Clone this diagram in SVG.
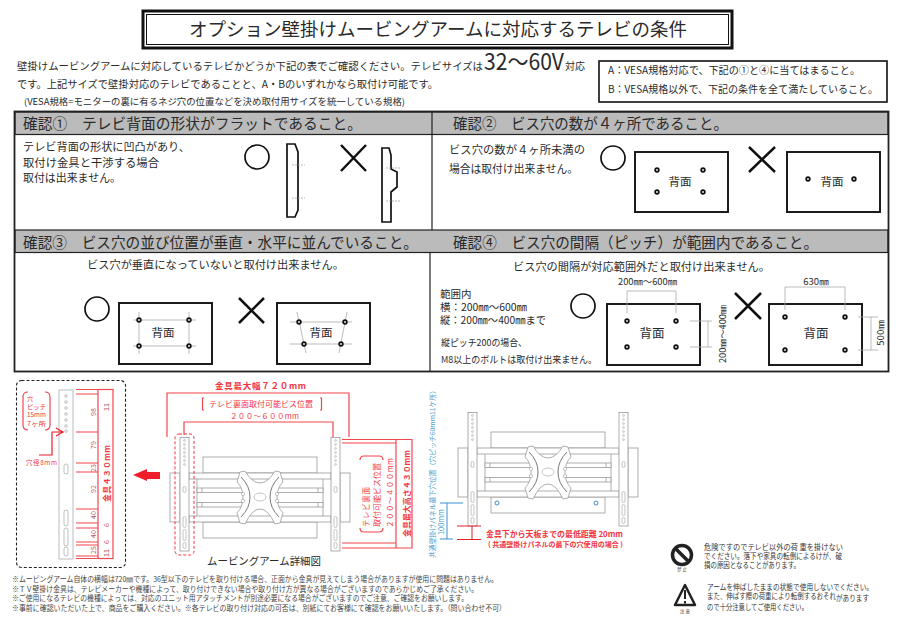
<svg xmlns="http://www.w3.org/2000/svg" width="900" height="623" viewBox="0 0 900 623">
<style>
text{font-family:"Noto Sans CJK JP","Liberation Sans",sans-serif;fill:#2a2a2a}
.b{stroke:#111;fill:#fff;stroke-width:1.900}
.hdr{fill:#bbb;stroke:#222;stroke-width:1.200}
.gl{stroke:#aaa;stroke-width:.8;fill:none}
.hole{fill:#fff;stroke:#111;stroke-width:1.800}
.mark{stroke:#111;stroke-width:1.700;fill:none}
.cross{stroke:#111;stroke-width:2.500;fill:none}
.r{stroke:#f2474f;stroke-width:1.200;fill:none}
.rt{fill:#f2353f;font-weight:700}
.rs{fill:#f2353f}
.m{stroke:#999;stroke-width:.8;fill:#fff}
.m2{stroke:#aaa;stroke-width:.7;fill:#fff}
.bl{stroke:#3f8fd0;stroke-width:1;fill:none}
.bt{fill:#4f9fd0}
.h3{font-size:15.200px}
.h4{font-size:11.200px}
.bm{font-size:11.500px;text-anchor:middle}
.sm{font-size:9.600px}
.fn{font-size:7.500px;fill:#444}
.wn{font-size:7.600px;fill:#333}
.dim{font-size:7px;text-anchor:middle;fill:#b56}
</style>
<defs>
<g id="rail">
<rect class="m" x="0" y="0" width="9" height="113.500"/>
<g class="m2"><circle cx="4.500" cy="3" r=".9"/><circle cx="4.500" cy="7" r=".9"/><circle cx="4.500" cy="11" r=".9"/><circle cx="4.500" cy="15" r=".9"/><circle cx="4.500" cy="19" r=".9"/><circle cx="4.500" cy="23" r=".9"/><circle cx="4.500" cy="27" r=".9"/></g>
<rect class="m2" x="3" y="49" width="3" height="6" rx="1.500"/>
<rect class="m2" x="3" y="79" width="3" height="11" rx="1.500"/>
<rect class="m2" x="3" y="92" width="3" height="11" rx="1.500"/>
<rect class="m2" x="3" y="105" width="3" height="6" rx="1.500"/>
</g>
<g id="arm">
<rect class="m" x="203" y="457" width="114" height="16"/>
<rect class="m" x="203" y="522" width="114" height="16"/>
<rect class="m" x="170" y="473" width="10" height="49"/>
<rect class="m" x="340" y="473" width="10" height="49"/>
<rect class="m" x="189" y="473" width="142" height="6"/>
<rect class="m" x="189" y="516" width="142" height="6"/>
<path class="m" d="M197 479V516M323 479V516"/>
<rect class="m" x="197" y="488" width="126" height="4.500"/>
<rect class="m" x="197" y="502.500" width="126" height="4.500"/>
<path class="m" d="M202 488V492.500M202 502.500V507M318 488V492.500M318 502.500V507"/>
<path class="m" d="M240 472L245 471Q252 483 260 483Q268 483 275 471L280 472L283 482Q277 488 277 497Q277 507 283 513L280 523L275 524Q268 509 260 509Q252 509 245 524L240 523L237 513Q243 507 243 497Q243 488 237 482Z"/>
<path d="M241 477Q250 486 250 497Q250 508 241 517" fill="none" stroke="#777" stroke-width="1"/>
<path d="M279 477Q270 486 270 497Q270 508 279 517" fill="none" stroke="#777" stroke-width="1"/>
<ellipse class="m2" cx="260" cy="497" rx="6" ry="4"/>
<circle class="m2" cx="243" cy="494" r="1.700"/><circle class="m2" cx="243" cy="501" r="1.700"/>
<circle class="m2" cx="277" cy="494" r="1.700"/><circle class="m2" cx="277" cy="501" r="1.700"/>
<use href="#rail" x="180" y="437.500"/>
<use href="#rail" x="331" y="437.500"/>
</g>
</defs>
<rect width="900" height="623" fill="#fff"/>

<g id="title">
<rect x="143" y="11" width="589" height="37" fill="#fff" stroke="#111" stroke-width="3"/>
<rect x="146.500" y="14.500" width="582" height="30" fill="none" stroke="#111" stroke-width="1"/>
<text x="189" y="36" font-size="18.400" textLength="498" lengthAdjust="spacingAndGlyphs">オプション壁掛けムービングアームに対応するテレビの条件</text>
</g>

<g id="intro">
<text x="17" y="70" font-size="10.400" textLength="466" lengthAdjust="spacingAndGlyphs">壁掛けムービングアームに対応しているテレビかどうか下記の表でご確認ください。テレビサイズは</text>
<text x="484" y="69.500" font-size="23" fill="#111" textLength="80" lengthAdjust="spacingAndGlyphs">32〜60V</text>
<text x="565" y="70" font-size="10" textLength="20">対応</text>
<text x="17" y="87.500" font-size="10.400" textLength="421" lengthAdjust="spacingAndGlyphs">です。上記サイズで壁掛対応のテレビであることと、A・Bのいずれかなら取付け可能です。</text>
<text x="24" y="105" font-size="9" textLength="381" lengthAdjust="spacingAndGlyphs">(VESA規格=モニターの裏に有るネジ穴の位置などを決め取付用サイズを統一している規格)</text>
</g>

<g id="conditions">
<rect x="599" y="61" width="288" height="41" fill="#fff" stroke="#111" stroke-width="1.600"/>
<text x="608" y="74" font-size="10.500" textLength="252" lengthAdjust="spacingAndGlyphs">A：VESA規格対応で、下記の①と④に当てはまること。</text>
<text x="608" y="93" font-size="10.500" textLength="270" lengthAdjust="spacingAndGlyphs">B：VESA規格以外で、下記の条件を全て満たしていること。</text>
</g>

<g id="table">
<rect class="hdr" x="15" y="112" width="873" height="22.500"/>
<rect class="hdr" x="15" y="230" width="873" height="22.500"/>
<rect x="14.500" y="111.500" width="874" height="260" fill="none" stroke="#222" stroke-width="1.800"/>
<path d="M432 112V230M430 252V372" stroke="#222" stroke-width="1.200" fill="none"/>
</g>

<g id="check1">
<text class="h3" x="23" y="129" textLength="339" lengthAdjust="spacingAndGlyphs">確認①　テレビ背面の形状がフラットであること。</text>
<text class="h4" x="23" y="151" textLength="167" lengthAdjust="spacingAndGlyphs">テレビ背面の形状に凹凸があり、</text>
<text class="h4" x="23" y="166.500" textLength="136" lengthAdjust="spacingAndGlyphs">取付け金具と干渉する場合</text>
<text class="h4" x="23" y="182" textLength="98" lengthAdjust="spacingAndGlyphs">取付は出来ません。</text>
<circle class="mark" cx="257" cy="157" r="12"/>
<path class="mark" d="M287 144H295L298 152V210L295 217H287Z"/>
<path class="gl" stroke="#888" stroke-dasharray="2 1" d="M292 165H305M292 198H305"/>
<path class="cross" d="M341 145L366 171M366 145L341 171"/>
<path class="mark" d="M382 148H389L391 155V169L397 172V187L391 192V222H382Z"/>
<path class="gl" stroke-dasharray="2 1" d="M386 168H400M386 201H400"/>
</g>

<g id="check2">
<text class="h3" x="453" y="129" textLength="275" lengthAdjust="spacingAndGlyphs">確認②　ビス穴の数が４ヶ所であること。</text>
<text class="h4" x="449" y="154" textLength="136" lengthAdjust="spacingAndGlyphs">ビス穴の数が４ヶ所未満の</text>
<text class="h4" x="449" y="173" textLength="129" lengthAdjust="spacingAndGlyphs">場合は取付け出来ません。</text>
<circle class="mark" cx="613" cy="158" r="12"/>
<rect class="b" x="635" y="152" width="93" height="60"/>
<g class="hole"><circle cx="657" cy="170" r="1.800"/><circle cx="703" cy="170" r="1.800"/><circle cx="657" cy="192" r="1.800"/><circle cx="703" cy="192" r="1.800"/></g>
<text class="bm" x="680" y="186">背面</text>
<path class="cross" d="M749 147L775 172M775 147L749 172"/>
<rect class="b" x="787" y="152" width="93" height="60"/>
<g class="hole"><circle cx="808" cy="179" r="1.800"/><circle cx="854" cy="179" r="1.800"/></g>
<text class="bm" x="832" y="186">背面</text>
</g>

<g id="check3">
<text class="h3" x="23" y="247.500" textLength="395" lengthAdjust="spacingAndGlyphs">確認③　ビス穴の並び位置が垂直・水平に並んでいること。</text>
<text x="87" y="269" font-size="11" textLength="257" lengthAdjust="spacingAndGlyphs">ビス穴が垂直になっていないと取付け出来ません。</text>
<circle class="mark" cx="97" cy="309" r="12"/>
<rect class="b" x="119" y="303" width="93" height="61"/>
<path class="gl" d="M133 320H196M133 346H196M139 312V354M189 312V354"/>
<g class="hole"><circle cx="139" cy="320" r="1.800"/><circle cx="189" cy="320" r="1.800"/><circle cx="139" cy="346" r="1.800"/><circle cx="189" cy="346" r="1.800"/></g>
<text class="bm" x="163" y="337">背面</text>
<path class="cross" d="M239 298L264 323M264 298L239 323"/>
<rect class="b" x="277" y="303" width="93" height="61"/>
<path class="gl" d="M290 322H352M290 344H352M297 312L306 353M347 312L339 353"/>
<g class="hole"><circle cx="299" cy="322" r="1.800"/><circle cx="345" cy="322" r="1.800"/><circle cx="304" cy="344" r="1.800"/><circle cx="341" cy="344" r="1.800"/></g>
<text class="bm" x="321" y="337">背面</text>
</g>

<g id="check4">
<text class="h3" x="453" y="247.500" textLength="365" lengthAdjust="spacingAndGlyphs">確認④　ビス穴の間隔（ピッチ）が範囲内であること。</text>
<text x="513" y="271" font-size="11" textLength="257" lengthAdjust="spacingAndGlyphs">ビス穴の間隔が対応範囲外だと取付け出来ません。</text>
<text x="440" y="298" font-size="10.500">範囲内</text>
<text x="440" y="311" font-size="10.500" textLength="87" lengthAdjust="spacingAndGlyphs">横：200㎜〜600㎜</text>
<text x="440" y="324" font-size="10.500" textLength="106" lengthAdjust="spacingAndGlyphs">縦：200㎜〜400㎜まで</text>
<text class="sm" x="441" y="345.500" textLength="86" lengthAdjust="spacingAndGlyphs">縦ピッチ200の場合、</text>
<text class="sm" x="441" y="362.500" textLength="156" lengthAdjust="spacingAndGlyphs">M8以上のボルトは取付け出来ません。</text>
<circle class="mark" cx="583" cy="306" r="12"/>
<text x="618" y="285" font-size="9.500" textLength="59" lengthAdjust="spacingAndGlyphs">200㎜〜600㎜</text>
<rect class="b" x="607" y="304" width="93" height="61"/>
<path class="gl" d="M627 291V313M676 291V313M627 291H676M690 321H712M690 347H712M708 321V347"/>
<g class="hole"><circle cx="627" cy="321" r="1.800"/><circle cx="676" cy="321" r="1.800"/><circle cx="627" cy="347" r="1.800"/><circle cx="676" cy="347" r="1.800"/></g>
<text x="652" y="338" font-size="12.500" text-anchor="middle">背面</text>
<text transform="translate(725.500 363) rotate(-90)" font-size="9.500" textLength="58" lengthAdjust="spacingAndGlyphs">200㎜〜400㎜</text>
<path class="cross" d="M735 293L761 319M761 293L735 319"/>
<text x="816" y="285" font-size="9.500" text-anchor="middle">630㎜</text>
<rect class="b" x="769" y="304" width="93" height="61"/>
<path class="gl" d="M785 287V310M845 287V310M785 287H845M858 317H878M858 350H878M871 317V350"/>
<g class="hole"><circle cx="785" cy="317" r="1.800"/><circle cx="845" cy="317" r="1.800"/><circle cx="785" cy="350" r="1.800"/><circle cx="845" cy="350" r="1.800"/></g>
<text x="816" y="338" font-size="12.500" text-anchor="middle">背面</text>
<text transform="translate(883.500 333) rotate(-90)" font-size="9.500" text-anchor="middle">500㎜</text>
</g>

<g id="rail-detail">
<rect x="16.500" y="380.500" width="109" height="187" rx="5" fill="none" stroke="#222" stroke-width="1.100" stroke-dasharray="3 2"/>
<rect x="59" y="390" width="14" height="169" fill="#fff" stroke="#bbb" stroke-width="1"/>
<g fill="#fff" stroke="#999" stroke-width=".6"><circle cx="66" cy="396" r="1.300"/><circle cx="66" cy="402" r="1.300"/><circle cx="66" cy="408" r="1.300"/><circle cx="66" cy="414" r="1.300"/><circle cx="66" cy="420" r="1.300"/><circle cx="66" cy="426" r="1.300"/><circle cx="66" cy="431" r="1.300"/>
<rect x="64" y="464" width="4" height="10" rx="2"/><rect x="64" y="510" width="4" height="16" rx="2"/><rect x="64" y="528" width="4" height="18" rx="2"/><rect x="64" y="547" width="4" height="9" rx="2"/></g>
<rect class="r" x="98" y="389.500" width="15" height="169"/>
<path class="r" d="M76 389.500H98M76 394H98M76 432H98M76 463H98M76 472H98M76 509H98M76 523H98M76 528H98M76 542H98M76 545H98M76 556H98M76 558.500H98"/>
<text class="dim" transform="translate(96 412) rotate(-90)">98</text>
<text class="dim" transform="translate(96 445) rotate(-90)">79</text>
<text class="dim" transform="translate(96 468) rotate(-90)">23</text>
<text class="dim" transform="translate(96 489) rotate(-90)">92</text>
<text class="dim" transform="translate(96 515) rotate(-90)">40</text>
<text class="dim" transform="translate(96 534) rotate(-90)">40</text>
<text class="dim" transform="translate(96 550) rotate(-90)">25</text>
<text class="dim" transform="translate(109 407) rotate(-90)">11</text>
<text class="dim" transform="translate(109 525) rotate(-90)">6</text>
<text class="dim" transform="translate(109 542) rotate(-90)">6</text>
<text class="dim" transform="translate(109 553) rotate(-90)">11</text>
<text class="rt" transform="translate(110 473.500) rotate(-90)" font-size="8" text-anchor="middle" textLength="57">金具４３０mm</text>
<path class="r" d="M28 392Q23 392 23 397V425Q23 430 28 430M45 392Q50 392 50 397V425Q50 430 45 430"/>
<text class="rs" x="27" y="400.500" font-size="6">穴</text>
<text class="rs" x="27" y="408.500" font-size="6" textLength="19" lengthAdjust="spacingAndGlyphs">ピッチ</text>
<text class="rs" x="27" y="417" font-size="6" textLength="19" lengthAdjust="spacingAndGlyphs">15mm</text>
<text class="rs" x="27" y="425.500" font-size="6" textLength="19" lengthAdjust="spacingAndGlyphs">7ヶ所</text>
<path d="M39 455H52V432H62M56 428L63 432L56 436" fill="none" stroke="#f01c2a" stroke-width="1.200"/>
<text class="rs" x="26" y="465" font-size="6.500" textLength="31">穴径8mm</text>
<path d="M133 475L147 469V472H160V479H147V481Z" fill="#f01c2a"/>
</g>

<g id="arm-detail">
<use href="#arm"/>
<path class="r" d="M167 437V393H349V437M184 435V422H333V437"/>
<text class="rt" x="215" y="389" font-size="8.500" textLength="91">金具最大幅７２０mm</text>
<path class="r" d="M204 398H202.500V410H204M320 398H321.500V410H320"/>
<text class="rs" x="209" y="407" font-size="7.500" textLength="104" lengthAdjust="spacingAndGlyphs">テレビ裏面取付可能ビス位置</text>
<text class="rs" x="230" y="419" font-size="7.500" textLength="69">２００～６００mm</text>
<rect x="175" y="434" width="19" height="121" rx="4" fill="none" stroke="#f2353f" stroke-width="1" stroke-dasharray="3 2"/>
<path class="r" d="M342 439.500H412V548H342M342 443H396V543H342M396 439.500V548"/>
<path class="r" d="M360 460Q360 456 364 456H379Q383 456 383 460M360 528Q360 532 364 532H379Q383 532 383 528"/>
<text class="rs" transform="translate(369 507) rotate(-90)" font-size="7.500" text-anchor="middle" textLength="40">テレビ裏面</text>
<text class="rs" transform="translate(380 495) rotate(-90)" font-size="7.500" text-anchor="middle" textLength="64" lengthAdjust="spacingAndGlyphs">取付可能ビス位置</text>
<text class="rs" transform="translate(393 493) rotate(-90)" font-size="7.500" text-anchor="middle" textLength="70">２００～４００mm</text>
<text class="rt" transform="translate(410 493.500) rotate(-90)" font-size="8" text-anchor="middle" textLength="87">金具最大高さ４３０mm</text>
<text x="207" y="565" font-size="10.500" textLength="114" lengthAdjust="spacingAndGlyphs">ムービングアーム詳細図</text>
</g>

<g id="panel-detail">
<use href="#arm" x="288" y="-25"/>
<text class="bt" transform="translate(435 472.500) rotate(-90)" font-size="6.800" text-anchor="middle" textLength="171" lengthAdjust="spacingAndGlyphs">共通壁掛けパネル最下穴位置（穴ピッチ60mm11ケ所）</text>
<circle class="bl" cx="497" cy="503" r="2"/><circle class="bl" cx="596" cy="503" r="2"/>
<path class="bl" d="M440 503H463M440 539H453M447 503V539"/>
<text class="bt" transform="translate(444 522) rotate(-90)" font-size="7.500" text-anchor="middle" textLength="26">100mm</text>
<path d="M457 526H481M457 539.500H481M472 526V539.500" stroke="#e8202c" stroke-width="1" fill="none"/>
<text class="rt" x="486" y="537" font-size="8" textLength="137" lengthAdjust="spacingAndGlyphs">金具下から天板までの最低距離 20mm</text>
<text class="rt" x="488" y="547" font-size="6.800" textLength="135" lengthAdjust="spacingAndGlyphs">( 共通壁掛けパネルの最下の穴使用の場合 )</text>
</g>

<g id="footnotes">
<text class="fn" x="12" y="582" textLength="486" lengthAdjust="spacingAndGlyphs">※ムービングアーム自体の横幅は720㎜です。36型以下のテレビを取り付ける場合、正面から金具が見えてしまう場合がありますが使用に問題はありません。</text>
<text class="fn" x="12" y="592" textLength="466" lengthAdjust="spacingAndGlyphs">※ＴＶ壁掛け金具は、テレビメーカーや機種によって、取り付けできない場合や取り付け方が異なる場合がございますのであらかじめご了承ください。</text>
<text class="fn" x="12" y="601" textLength="456" lengthAdjust="spacingAndGlyphs">※ご使用になるテレビの機種によっては、対応のユニット用アタッチメントが別途必要になる場合がございますのでご注意、ご確認をお願いします。</text>
<text class="fn" x="12" y="611" textLength="494" lengthAdjust="spacingAndGlyphs">※事前に確認いただいた上で、商品をご購入ください。※各テレビの取り付け対応の可否は、別紙にてお客様にて確認をお願いいたします。（問い合わせ不可）</text>
</g>

<g id="warning-prohibit">
<circle cx="682" cy="555" r="9.500" fill="none" stroke="#222" stroke-width="3.500"/>
<path d="M675 548L689 562" stroke="#222" stroke-width="3.500"/>
<text x="682" y="571" font-size="4.500" text-anchor="middle">禁 止</text>
<text class="wn" x="704" y="549.500" textLength="139" lengthAdjust="spacingAndGlyphs">危険ですのでテレビ以外の荷 重を掛けない</text>
<text class="wn" x="704" y="559" textLength="138" lengthAdjust="spacingAndGlyphs">でください。落下や家具の転倒によるけが、破</text>
<text class="wn" x="704" y="568" textLength="96" lengthAdjust="spacingAndGlyphs">損の原因となることがあります。</text>
</g>

<g id="warning-caution">
<path d="M685 585L695 605H675Z" fill="#fff" stroke="#222" stroke-width="2.500" stroke-linejoin="round"/>
<path d="M685 590V599M685 601V603.500" stroke="#222" stroke-width="2"/>
<text x="685" y="613" font-size="4.500" text-anchor="middle">注 意</text>
<text class="wn" x="707" y="590" textLength="166" lengthAdjust="spacingAndGlyphs">アームを伸ばしたままの状態で使用しないでください。</text>
<text class="wn" x="707" y="599" textLength="129" lengthAdjust="spacingAndGlyphs">また、伸ばす際の荷重により転倒するおそれ</text>
<text class="wn" x="836" y="600.500" textLength="33" lengthAdjust="spacingAndGlyphs">があります</text>
<text class="wn" x="707" y="610" textLength="101" lengthAdjust="spacingAndGlyphs">ので十分注意してご使用ください。</text>
</g>
</svg>
